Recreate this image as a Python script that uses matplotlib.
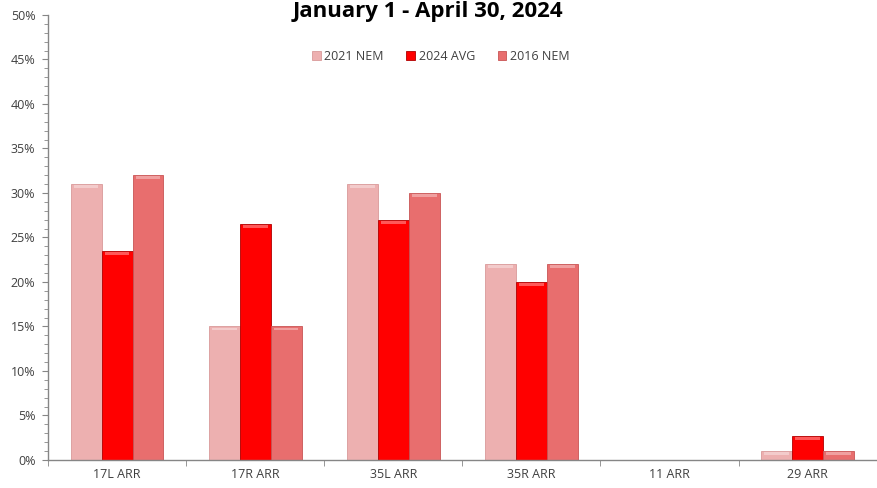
import numpy as np
import matplotlib
matplotlib.use("Agg")
import matplotlib.pyplot as plt
from matplotlib.ticker import MultipleLocator, FixedLocator

# ── Data ─────────────────────────────────────────────────────
categories = ["17L ARR", "17R ARR", "35L ARR", "35R ARR", "11 ARR", "29 ARR"]
nem_2021 = [31.0, 15.0, 31.0, 22.0, 0.0, 1.0]
avg_2024 = [23.5, 26.5, 27.0, 20.0, 0.0, 2.7]
nem_2016 = [32.0, 15.0, 30.0, 22.0, 0.0, 1.0]

series = [
    ("2021 NEM", nem_2021, "#EDB0B0", "#D99A9A"),
    ("2024 AVG", avg_2024, "#FF0000", "#B00000"),
    ("2016 NEM", nem_2016, "#E86E6E", "#C85555"),
]

plt.rcParams["font.family"] = ["Open Sans", "DejaVu Sans"]

fig = plt.figure(figsize=(8.77, 4.88), dpi=100)
ax = fig.add_axes([0.0547, 0.0574, 0.945, 0.912])

x = np.arange(len(categories))
width = 0.224
for i, (name, vals, color, edge) in enumerate(series):
    pos = x + (i - 1) * width
    ax.bar(pos, vals, width=width, color=color, edgecolor=edge,
           linewidth=0.6, label=name, zorder=2)
    # glossy highlight near the top of each bar
    hl = [min(v, 0.6) for v in vals]
    ax.bar(pos, [h * 0.5 for h in hl], width=width * 0.8,
           bottom=[v - h * 0.75 for v, h in zip(vals, hl)],
           color="white", alpha=0.35, linewidth=0, zorder=3)

ax.set_xlim(-0.5, len(categories) - 0.5)
ax.set_ylim(0, 50)

ax.set_xticks(x)
ax.set_xticklabels(categories, fontsize=9, color="#404040")
ax.xaxis.set_minor_locator(FixedLocator(np.arange(-0.5, len(categories), 1.0)))
ax.tick_params(axis="x", which="major", length=0, pad=6)
ax.tick_params(axis="x", which="minor", length=4, color="#868686", direction="out")

ax.yaxis.set_major_locator(MultipleLocator(5))
ax.yaxis.set_minor_locator(MultipleLocator(1))
ax.set_yticklabels([f"{int(t)}%" for t in ax.get_yticks()], fontsize=9, color="#404040")
ax.tick_params(axis="y", which="major", length=4, color="#868686", pad=5)
ax.tick_params(axis="y", which="minor", length=3, color="#868686")

for s in ["top", "right"]:
    ax.spines[s].set_visible(False)
for s in ["left", "bottom"]:
    ax.spines[s].set_color("#868686")
    ax.spines[s].set_linewidth(1.0)

fig.text(0.488, 0.976, "January 1 - April 30, 2024", ha="center", va="center",
         fontsize=16, fontweight="bold", color="black")

ax.legend(loc="upper center", bbox_to_anchor=(0.474, 0.946), ncol=3, frameon=False,
          fontsize=9, handlelength=0.7, handleheight=0.7, handletextpad=0.3,
          columnspacing=1.8, labelcolor="#404040")

fig.savefig("out.png", dpi=100)
